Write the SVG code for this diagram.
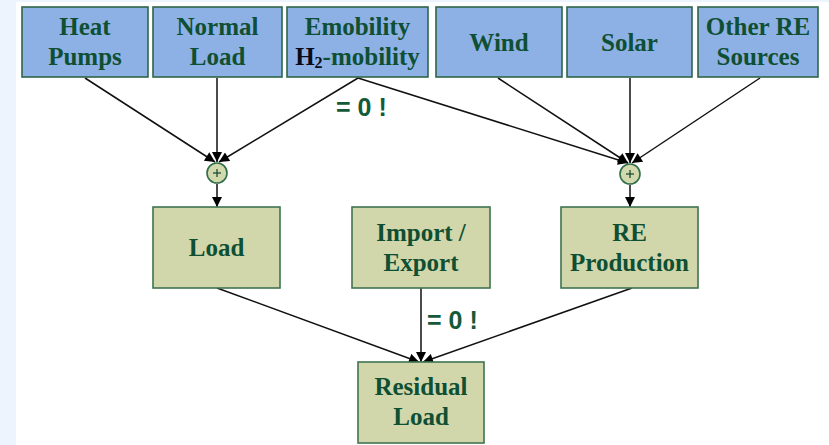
<svg xmlns="http://www.w3.org/2000/svg" width="829" height="445" viewBox="0 0 829 445">
<style>
.bg{fill:#ffffff}
.band{fill:#eef4fd}
.blue{fill:#8db1e4;stroke:#2f6448;stroke-width:1.6}
.green{fill:#d2d7ab;stroke:#3f7450;stroke-width:1.6}
.sum{fill:#d2d9ad;stroke:#2f6e48;stroke-width:1.6}
.t{font-family:"Liberation Serif","Times New Roman",serif;font-weight:bold;font-size:25px;fill:#0f4f33;text-anchor:middle}
.z{font-family:"Liberation Sans",Arial,sans-serif;font-weight:bold;font-size:25px;fill:#145a38}
.c line{stroke:#111;stroke-width:1.5;marker-end:url(#ah)}
.plus{stroke:#1d4d35;stroke-width:1.3}
</style>
<defs>
<marker id="ah" viewBox="0 0 10 10" refX="10" refY="5" markerWidth="13" markerHeight="10" markerUnits="userSpaceOnUse" orient="auto">
<path d="M0,0 L10,5 L0,10 Z" fill="#000"/>
</marker>
</defs>
<rect class="bg" x="0" y="0" width="829" height="445"/>
<rect class="band" x="0" y="0" width="16" height="445"/>
<rect class="band" x="0" y="0" width="829" height="2"/>

<g id="connectors" class="c">
<line x1="85" y1="78" x2="215" y2="162"/>
<line x1="217" y1="78" x2="217" y2="162"/>
<line x1="358" y1="78" x2="219" y2="162"/>
<line x1="358" y1="78" x2="628" y2="163"/>
<line x1="498" y1="78" x2="628" y2="163"/>
<line x1="630" y1="78" x2="630" y2="163"/>
<line x1="760" y1="78" x2="632" y2="163"/>
<line x1="217" y1="184" x2="217" y2="207"/>
<line x1="630" y1="185" x2="630" y2="207"/>
<line x1="217" y1="288" x2="419" y2="362"/>
<line x1="421" y1="288" x2="421" y2="362"/>
<line x1="632" y1="288" x2="423" y2="362"/>
</g>

<g id="heat-pumps"><rect class="blue" x="22" y="7" width="126" height="70"/>
<text class="t" x="85" y="35">Heat</text><text class="t" x="85" y="65">Pumps</text></g>
<g id="normal-load"><rect class="blue" x="153" y="7" width="129" height="70"/>
<text class="t" x="217.5" y="35">Normal</text><text class="t" x="217.5" y="65">Load</text></g>
<g id="emobility"><rect class="blue" x="287" y="7" width="141" height="70"/>
<text class="t" x="357.5" y="35">Emobility</text><text class="t" x="357.5" y="65"><tspan fill="#0a0a1a">H</tspan><tspan font-size="16" dy="3" fill="#0a0a1a">2</tspan><tspan dy="-3">-mobility</tspan></text></g>
<g id="wind"><rect class="blue" x="436" y="7" width="126" height="70"/>
<text class="t" x="499" y="51">Wind</text></g>
<g id="solar"><rect class="blue" x="567" y="7" width="125" height="70"/>
<text class="t" x="629.5" y="51">Solar</text></g>
<g id="other-re"><rect class="blue" x="698" y="7" width="120" height="70"/>
<text class="t" x="758" y="35">Other RE</text><text class="t" x="758" y="65">Sources</text></g>

<g id="sum-load"><circle class="sum" cx="217" cy="173" r="10"/>
<line class="plus" x1="213" y1="173" x2="221" y2="173"/><line class="plus" x1="217" y1="169" x2="217" y2="177"/></g>
<g id="sum-re"><circle class="sum" cx="630" cy="174" r="10"/>
<line class="plus" x1="626" y1="174" x2="634" y2="174"/><line class="plus" x1="630" y1="170" x2="630" y2="178"/></g>

<g id="load"><rect class="green" x="153" y="207" width="127" height="81"/>
<text class="t" x="216.5" y="256">Load</text></g>
<g id="import-export"><rect class="green" x="352" y="207" width="138" height="81"/>
<text class="t" x="421" y="241">Import /</text><text class="t" x="421" y="271">Export</text></g>
<g id="re-production"><rect class="green" x="561" y="207" width="137" height="81"/>
<text class="t" x="629.5" y="241">RE</text><text class="t" x="629.5" y="271">Production</text></g>
<g id="residual-load"><rect class="green" x="358" y="362" width="126" height="81"/>
<text class="t" x="421" y="395">Residual</text><text class="t" x="421" y="425">Load</text></g>

<text class="z" x="336" y="116">= 0 !</text>
<text class="z" x="427" y="329">= 0 !</text>
</svg>
